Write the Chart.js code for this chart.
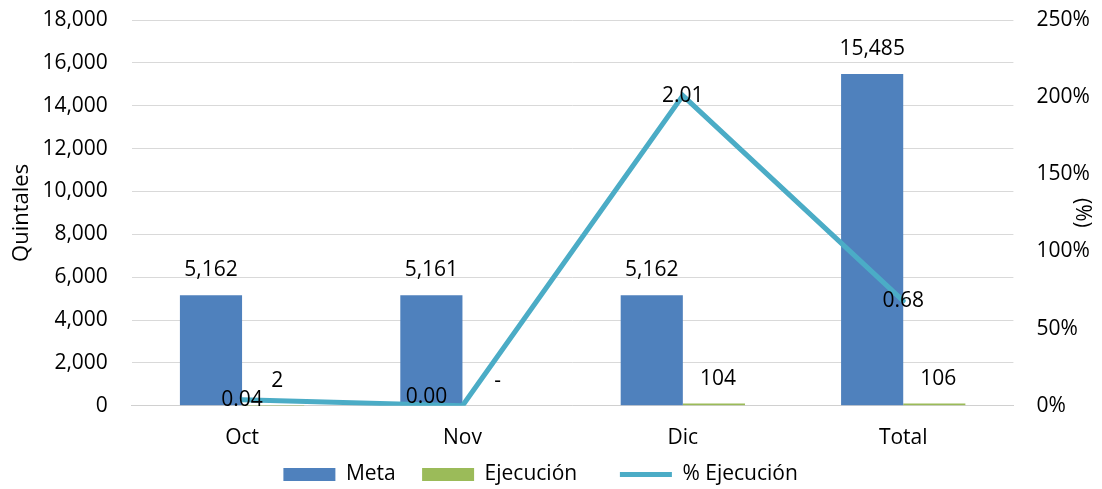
<!DOCTYPE html>
<html>
<head>
<meta charset="utf-8">
<script src="https://cdn.jsdelivr.net/npm/chart.js@4.4.0/dist/chart.umd.min.js"></script>
<style>
  html, body { margin: 0; padding: 0; background: #fff; }
  #contenedor { width: 1102px; height: 489px; }
</style>
</head>
<body>
<div id="contenedor"><canvas id="grafico"></canvas></div>
<script>
const meses = ['Oct', 'Nov', 'Dic', 'Total'];
const meta = [5162, 5161, 5162, 15485];
const ejecucion = [2, 0, 104, 106];
const porcEjecucion = [0.04, 0.00, 2.01, 0.68];

const fuente = { family: '"Open Sans", sans-serif', size: 21 };
const fuenteTitulo = { family: '"Open Sans", sans-serif', size: 22 };
/* desplazamiento de las etiquetas de la linea (Nov quedo corrido a la izquierda) */
const despLinea = [[0, 0], [-36, -9], [0, 0], [0, 0]];
const huecos = ['    ', '   ', '      ']; // espacio extra entre items de la leyenda
const invisible = 'rgba(0,0,0,0)';

const formatoMiles = v => v === 0 ? '-' : v.toLocaleString('en-US');

const etiquetas = {
    id: 'etiquetas',
    afterDatasetsDraw(chart) {
        const ctx = chart.ctx;
        ctx.save();
        ctx.font = `${fuente.size}px ${fuente.family}`;
        ctx.fillStyle = '#000';
        ctx.textAlign = 'center';
        ctx.textBaseline = 'middle';
        chart.data.datasets.forEach((ds, i) => {
            const info = chart.getDatasetMeta(i);
            info.data.forEach((el, j) => {
                const v = ds.data[j];
                if (ds.type === 'line') {
                    ctx.fillText(v.toFixed(2), el.x + despLinea[j][0], el.y + despLinea[j][1]);
                } else {
                    ctx.fillText(formatoMiles(v), el.x + (i === 1 ? 4 : 0), el.y - 25);
                }
            });
        });
        ctx.restore();
    }
};

new Chart(document.querySelector('#grafico'), {
    type: 'bar',
    data: {
        labels: meses,
        datasets: [
            { label: 'Meta', data: meta, backgroundColor: '#4F81BD', pointStyle: 'rect', yAxisID: 'y', order: 2 },
            { label: 'Ejecución', data: ejecucion, backgroundColor: '#9BBB59', pointStyle: 'rect', yAxisID: 'y', order: 2 },
            {
                type: 'line', label: '% Ejecución', data: porcEjecucion,
                borderColor: '#4BACC6', backgroundColor: '#4BACC6', borderWidth: 5,
                borderCapStyle: 'round', pointRadius: 0, pointStyle: 'line',
                yAxisID: 'y1', order: 1
            }
        ]
    },
    options: {
        responsive: true,
        maintainAspectRatio: false,
        animation: false,
        layout: { padding: { left: 5, right: 4, top: 20, bottom: -6 } },
        datasets: { bar: { categoryPercentage: 0.564, barPercentage: 1 } },
        scales: {
            x: {
                grid: { display: true, drawOnChartArea: false, color: invisible, drawTicks: true, tickLength: 17, tickColor: invisible },
                border: { color: '#d0d0d0', width: 1 },
                ticks: { font: fuente, color: '#000', padding: 3 }
            },
            y: {
                min: 0, max: 18000,
                ticks: { stepSize: 2000, font: fuente, color: '#000', padding: 3, callback: v => v.toLocaleString('en-US') },
                grid: { color: '#d9d9d9', drawTicks: true, tickLength: 21, tickColor: invisible },
                border: { display: false },
                title: { display: true, text: 'Quintales', font: fuenteTitulo, color: '#000', padding: { top: 4, bottom: 4 } }
            },
            y1: {
                position: 'right',
                min: 0, max: 2.5,
                ticks: { stepSize: 0.5, font: fuente, color: '#000', padding: 3, callback: v => Math.round(v * 100) + '%' },
                grid: { display: false, drawTicks: true, tickLength: 20, tickColor: invisible },
                border: { display: false },
                title: { display: true, text: '(%)', font: fuente, color: '#000', padding: { top: 3, bottom: -23 } }
            }
        },
        plugins: {
            legend: {
                position: 'bottom',
                labels: {
                    font: fuente, color: '#000',
                    usePointStyle: true, pointStyleWidth: 52, boxHeight: 13,
                    padding: 10,
                    sort: (a, b) => a.datasetIndex - b.datasetIndex,
                    generateLabels(chart) {
                        const items = Chart.defaults.plugins.legend.labels.generateLabels(chart);
                        items.forEach((it, k) => { it.text = it.text + huecos[k]; });
                        return items;
                    }
                }
            },
            tooltip: { enabled: false }
        }
    },
    plugins: [etiquetas]
});
</script>
</body>
</html>
